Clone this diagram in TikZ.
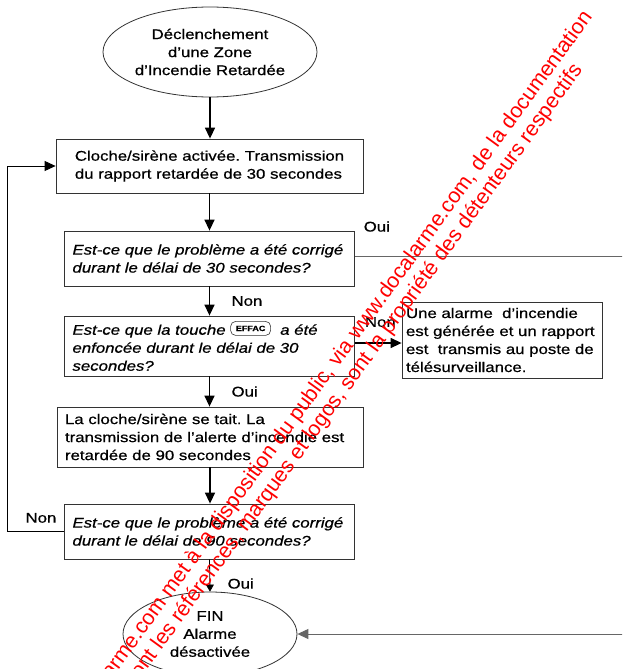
\documentclass[tikz,border=0pt]{standalone}
\usepackage{fontspec}
\setmainfont{Liberation Sans}[FakeStretch=1.2,FakeBold=0.6]
\newfontfamily\filigranefont{Liberation Sans}
\usetikzlibrary{arrows.meta,shapes.geometric}
\frenchspacing
\newcommand{\toucheeffac}{\tikz[baseline={([yshift=1pt]current bounding box.south)}]
  \node[draw=black!80,rectangle,rounded corners=5pt,line width=0.6pt,text width=,align=center,minimum width=40pt,minimum height=14pt,inner sep=1pt,font=\normalfont\fontsize{7.5}{8}\selectfont\bfseries] {EFFAC};}
\begin{document}
\begin{tikzpicture}[x=1pt,y=-1pt,font=\fontsize{14}{18}\selectfont,
    boite/.style={draw=black!80,line width=0.8pt,rectangle,align=left,inner sep=0pt},
    ovale/.style={draw=black!80,line width=0.8pt,ellipse,align=center,inner sep=0pt},
    fleche/.style={line width=1.4pt,-{Triangle[length=11pt,width=10pt]}},
    boucle/.style={line width=0.8pt,-{Triangle[length=11pt,width=10pt]}},
    retour/.style={draw=black!60,line width=1pt,-{Triangle[length=11pt,width=10pt]}},
    petite/.style={line width=0.8pt,-{Triangle[length=7pt,width=8pt]}},
    filigrane/.style={font=\filigranefont\fontsize{21.3}{21.3}\selectfont,text=red,inner sep=0pt,rotate=54,anchor=base east}]
    \useasboundingbox (0,0) rectangle (622,669);
    \fill[white] (0,0) rectangle (622,669);
    \clip (0,0) rectangle (622,669);
    % les cases
    \node[ovale,minimum width=214pt,minimum height=90pt] (debut) at (210,52) {Déclenchement\\d’une Zone\\d’Incendie Retardée};
    \node[boite,minimum width=307pt,minimum height=54pt] (cloche) at (209.5,166) {Cloche/sirène activée. Transmission\\du rapport retardée de 30 secondes};
    \node[boite,minimum width=290pt,minimum height=55pt,text width=274pt,font=\fontsize{14}{18}\selectfont\itshape] (test30) at (209.5,258.5) {Est-ce que le problème a été corrigé\\durant le délai de 30 secondes?};
    \node[boite,minimum width=290pt,minimum height=60pt,text width=274pt,font=\fontsize{14}{18}\selectfont\itshape] (touche) at (209.5,346) {Est-ce que la touche \toucheeffac\ \ a été\\enfoncée durant le délai de 30\\secondes?};
    \node[boite,minimum width=200pt,minimum height=76pt,text width=192pt] (alarme) at (502,340) {Une alarme~ d’incendie\\est générée et un rapport\\est~ transmis au poste de\\télésurveillance.};
    \node[boite,minimum width=306pt,minimum height=60pt,text width=290pt] (tait) at (210,437) {La cloche/sirène se tait. La\\transmission de l’alerte d’incendie est\\retardée de 90 secondes};
    \node[boite,minimum width=290pt,minimum height=55pt,text width=274pt,font=\fontsize{14}{18}\selectfont\itshape] (test90) at (209.5,531.5) {Est-ce que le problème a été corrigé\\durant le délai de 90 secondes?};
    \node[ovale,minimum width=174pt,minimum height=84pt] (fin) at (210,634) {FIN\\Alarme\\désactivée};
    % les fleches
    \draw[fleche] (debut.south) -- (debut.south |- cloche.north);
    \draw[fleche] (cloche.south) -- (cloche.south |- test30.north);
    \draw[fleche] (test30.south) -- node[anchor=west,xshift=18pt] {Non} (touche.north);
    \draw[fleche] (touche.south) -- node[anchor=west,xshift=18pt] {Oui} (touche.south |- tait.north);
    \draw[fleche] ([yshift=3pt]touche.east) -- node[pos=0,anchor=south west,xshift=6pt,yshift=12pt] {Non} ([yshift=3pt]touche.east -| alarme.west);
    \draw[fleche] (tait.south) -- (tait.south |- test90.north);
    \draw[petite] (test90.south) -- node[pos=0.75,anchor=west,xshift=14pt] {Oui} (fin.north);
    \draw[boucle] (test90.west) -- node[pos=0,anchor=south east,xshift=-4pt,yshift=5pt] {Non} ++(-57,0) |- (cloche.west);
    \draw[retour] ([yshift=2pt]test30.east) -- node[pos=0,anchor=south west,xshift=5pt,yshift=21pt,text=black] {Oui} ++(300,0) |- (fin.east);
    % filigrane
    \node[filigrane] (ligneA) at (593,17) {docalarme.com met à la disposition du public, via www.docalarme.com, de la documentation};
    \node[filigrane] (ligneB) at (583,70) {technique dont les références, marques et logos, sont la propriété des détenteurs respectifs};
\end{tikzpicture}
\end{document}
